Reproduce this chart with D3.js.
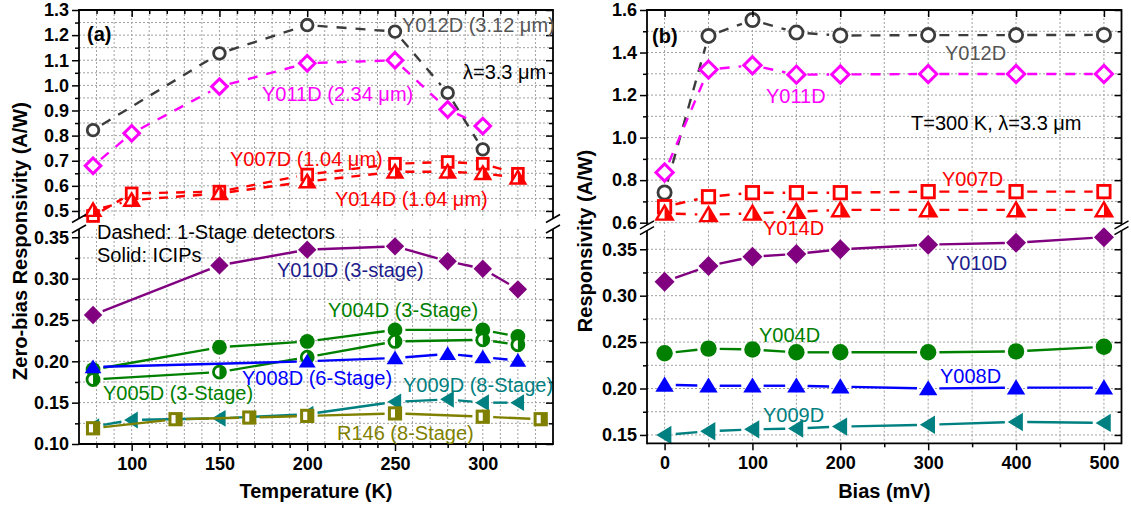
<!DOCTYPE html>
<html><head><meta charset="utf-8">
<script src="https://cdn.jsdelivr.net/npm/d3@7"></script>
<style>body{margin:0;background:#fff}svg{display:block}</style>
</head><body>
<svg id="c" width="1131" height="510"></svg>
<script>
// ---------- DATA ----------
// Panel (a): zero-bias responsivity vs temperature
const Y012D_T = [78, 150, 200, 250, 280, 300];
const Y012D_Ra = [0.822, 1.127, 1.240, 1.214, 0.970, 0.745];
const Y011D_T = [78, 100, 150, 200, 250, 280, 300];
const Y011D_Ra = [0.680, 0.809, 0.995, 1.088, 1.100, 0.904, 0.838];
const Y007D_T = [78, 100, 150, 200, 250, 280, 300, 320];
const Y007D_Ra = [0.480, 0.570, 0.577, 0.645, 0.688, 0.695, 0.688, 0.648];
const Y014D_T = [78, 100, 150, 200, 250, 280, 300, 320];
const Y014D_Ra = [0.503, 0.543, 0.570, 0.617, 0.656, 0.656, 0.650, 0.632];
const Y010D_T = [78, 150, 200, 250, 280, 300, 320];
const Y010D_Ra = [0.256, 0.316, 0.335, 0.339, 0.321, 0.312, 0.287];
const Y004D_T = [78, 150, 200, 250, 300, 320];
const Y004D_Ra = [0.190, 0.217, 0.224, 0.238, 0.238, 0.230];
const Y005D_T = [78, 150, 200, 250, 300, 320];
const Y005D_Ra = [0.178, 0.187, 0.205, 0.224, 0.226, 0.220];
const Y008D_T = [78, 200, 250, 280, 300, 320];
const Y008D_Ra = [0.193, 0.200, 0.204, 0.209, 0.205, 0.201];
const Y009D_T = [78, 100, 150, 200, 250, 280, 300, 320];
const Y009D_Ra = [0.121, 0.129, 0.131, 0.136, 0.151, 0.154, 0.150, 0.150];
const R146_T = [78, 125, 167, 200, 250, 300, 333];
const R146_Ra = [0.119, 0.130, 0.132, 0.134, 0.137, 0.133, 0.130];

// Panel (b): responsivity vs bias at 300 K
const bias = [0, 50, 100, 150, 200, 300, 400, 500];
const Y012D_Rb = [0.742, 1.478, 1.553, 1.494, 1.480, 1.482, 1.482, 1.483];
const Y011D_Rb = [0.836, 1.320, 1.340, 1.296, 1.297, 1.299, 1.299, 1.299];
const Y007D_Rb = [0.675, 0.722, 0.741, 0.741, 0.741, 0.746, 0.746, 0.746];
const Y014D_Rb = [0.644, 0.637, 0.644, 0.652, 0.660, 0.660, 0.660, 0.660];
const Y010D_Rb = [0.315, 0.332, 0.342, 0.345, 0.350, 0.355, 0.357, 0.363];
const Y004D_Rb = [0.238, 0.243, 0.242, 0.239, 0.239, 0.239, 0.240, 0.245];
const Y008D_Rb = [0.204, 0.203, 0.203, 0.203, 0.202, 0.200, 0.201, 0.201];
const Y009D_Rb = [0.150, 0.154, 0.156, 0.157, 0.159, 0.161, 0.164, 0.163];

// Ticks
const tempTicks = [100, 150, 200, 250, 300];
const biasTicks = [0, 100, 200, 300, 400, 500];
const aUpperTicks = [0.5, 0.6, 0.7, 0.8, 0.9, 1.0, 1.1, 1.2, 1.3];
const aLowerTicks = [0.10, 0.15, 0.20, 0.25, 0.30, 0.35];
const bUpperTicks = [0.6, 0.8, 1.0, 1.2, 1.4, 1.6];
const bLowerTicks = [0.15, 0.20, 0.25, 0.30, 0.35];

// ---------- DRAW ----------
const svg = d3.select('#c');
const FONT = '"Liberation Sans", Arial, Helvetica, sans-serif';
const C = {gray:'#3c3c3c', mag:'#ff00ff', red:'#ff0000', pur:'#800080', grn:'#008000',
           blu:'#0000ff', teal:'#008080', olive:'#808000', navy:'#1c1c8c'};

function marker(g, type, cx, cy, col, s) {
  const sw = 2.4;
  if (type === 'circleOpen') {
    g.append('circle').attr('cx',cx).attr('cy',cy).attr('r',s-1.6).attr('fill','#fff').attr('stroke',col).attr('stroke-width',sw+0.4);
  } else if (type === 'circleFilled') {
    g.append('circle').attr('cx',cx).attr('cy',cy).attr('r',s).attr('fill',col);
  } else if (type === 'circleHalf') {
    const r = s-1.4;
    g.append('circle').attr('cx',cx).attr('cy',cy).attr('r',r).attr('fill','#fff');
    g.append('path').attr('d',`M${cx},${cy-r}A${r},${r} 0 0 1 ${cx},${cy+r}Z`).attr('fill',col);
    g.append('circle').attr('cx',cx).attr('cy',cy).attr('r',r).attr('fill','none').attr('stroke',col).attr('stroke-width',sw+0.4);
  } else if (type === 'diamondOpen') {
    const d = s+0.4;
    g.append('path').attr('d',`M${cx},${cy-d}L${cx+d},${cy}L${cx},${cy+d}L${cx-d},${cy}Z`).attr('fill','#fff').attr('stroke',col).attr('stroke-width',sw+0.6);
  } else if (type === 'diamondFilled') {
    const d = s+1.8;
    g.append('path').attr('d',`M${cx},${cy-d}L${cx+d},${cy}L${cx},${cy+d}L${cx-d},${cy}Z`).attr('fill',col);
  } else if (type === 'squareOpen') {
    const h = s-2;
    g.append('rect').attr('x',cx-h).attr('y',cy-h).attr('width',2*h).attr('height',2*h).attr('fill','#fff').attr('stroke',col).attr('stroke-width',sw+0.4);
  } else if (type === 'squareHalf') {
    const h = s-1.8;
    g.append('rect').attr('x',cx-h).attr('y',cy-h).attr('width',2*h).attr('height',2*h).attr('fill','#fff');
    g.append('rect').attr('x',cx).attr('y',cy-h).attr('width',h).attr('height',2*h).attr('fill',col);
    g.append('rect').attr('x',cx-h).attr('y',cy-h).attr('width',2*h).attr('height',2*h).attr('fill','none').attr('stroke',col).attr('stroke-width',sw+0.6);
  } else if (type === 'triHalf') {
    const w = s, ht = s*1.7;
    const p = `M${cx},${cy-ht*0.55}L${cx+w},${cy+ht*0.45}L${cx-w},${cy+ht*0.45}Z`;
    g.append('path').attr('d',p).attr('fill','#fff');
    g.append('path').attr('d',`M${cx},${cy-ht*0.55}L${cx+w},${cy+ht*0.45}L${cx},${cy+ht*0.45}Z`).attr('fill',col);
    g.append('path').attr('d',p).attr('fill','none').attr('stroke',col).attr('stroke-width',sw).attr('stroke-linejoin','miter');
  } else if (type === 'triUp') {
    const w = s+1, ht = s*1.85;
    g.append('path').attr('d',`M${cx},${cy-ht*0.55}L${cx+w},${cy+ht*0.45}L${cx-w},${cy+ht*0.45}Z`).attr('fill',col);
  } else if (type === 'triLeft') {
    const w = s+1, ht = s*1.85;
    g.append('path').attr('d',`M${cx-ht*0.55},${cy}L${cx+ht*0.45},${cy-w}L${cx+ht*0.45},${cy+w}Z`).attr('fill',col);
  }
}

function drawPanel(P) {
  const g = svg.append('g');
  const x = P.x, yU = P.yU, yL = P.yL;
  const y = v => v > P.split ? yU(v) : yL(v);
  const [x0, x1] = x.range();
  const top = yU.range()[1], uBot = yU.range()[0], lTop = yL.range()[1], bot = yL.range()[0];

  // grid
  const gr = g.append('g').attr('stroke','#a0a0a0').attr('stroke-width',1).attr('stroke-dasharray','2,2');
  P.gridX.forEach(v => {
    gr.append('line').attr('x1',x(v)).attr('x2',x(v)).attr('y1',top).attr('y2',uBot);
    gr.append('line').attr('x1',x(v)).attr('x2',x(v)).attr('y1',lTop).attr('y2',bot);
  });
  P.gridU.forEach(v => gr.append('line').attr('x1',x0).attr('x2',x1).attr('y1',yU(v)).attr('y2',yU(v)));
  P.gridL.forEach(v => gr.append('line').attr('x1',x0).attr('x2',x1).attr('y1',yL(v)).attr('y2',yL(v)));

  // series
  P.series.forEach(S => {
    const pts = S.xs.map((xv,i) => [x(xv), y(S.ys[i])]);
    const lg = g.append('g').attr('stroke',S.color).attr('stroke-width',2.4).attr('fill','none');
    if (S.dash) lg.attr('stroke-dasharray', S.dash);
    const gap = S.size + 3;
    for (let i = 0; i < pts.length-1; i++) {
      const [ax, ay] = pts[i], [bx, by] = pts[i+1];
      const dx = bx-ax, dy = by-ay, L = Math.hypot(dx,dy);
      if (L <= 2*gap) continue;
      const ux = dx/L, uy = dy/L;
      lg.append('line').attr('x1',ax+ux*gap).attr('y1',ay+uy*gap).attr('x2',bx-ux*gap).attr('y2',by-uy*gap);
    }
    const mg = g.append('g');
    pts.forEach(p => marker(mg, S.marker, p[0], p[1], S.color, S.size));
  });

  // axes
  const styleAxis = a => {
    a.select('.domain').remove();
    a.selectAll('line').attr('stroke','#000').attr('stroke-width',1.5);
    a.selectAll('text').attr('font-family',FONT).attr('font-size',18).attr('font-weight','bold').attr('fill','#000');
  };
  const ax = g.append('g');
  ax.append('g').attr('transform',`translate(0,${bot})`)
    .call(d3.axisBottom(x).tickValues(P.xTicks).tickSize(7).tickPadding(6).tickFormat(d3.format('d'))).call(styleAxis);
  ax.append('g').attr('transform',`translate(0,${bot})`)
    .call(d3.axisBottom(x).tickValues(P.xMinor).tickSize(4).tickFormat('')).call(styleAxis);
  ax.append('g').attr('transform',`translate(0,${top})`)
    .call(d3.axisTop(x).tickValues(P.xTicks).tickSize(-7).tickFormat('')).call(styleAxis);
  ax.append('g').attr('transform',`translate(0,${top})`)
    .call(d3.axisTop(x).tickValues(P.xMinor).tickSize(-4).tickFormat('')).call(styleAxis);
  [[yU, P.yUTicks, P.yUMinor, P.fmtU], [yL, P.yLTicks, P.yLMinor, P.fmtL]].forEach(([sc, mj, mn, fm]) => {
    ax.append('g').attr('transform',`translate(${x0},0)`)
      .call(d3.axisLeft(sc).tickValues(mj).tickSize(7).tickPadding(3).tickFormat(d3.format(fm))).call(styleAxis);
    ax.append('g').attr('transform',`translate(${x0},0)`)
      .call(d3.axisLeft(sc).tickValues(mn).tickSize(4).tickFormat('')).call(styleAxis);
    ax.append('g').attr('transform',`translate(${x1},0)`)
      .call(d3.axisRight(sc).tickValues(mj).tickSize(-7).tickFormat('')).call(styleAxis);
    ax.append('g').attr('transform',`translate(${x1},0)`)
      .call(d3.axisRight(sc).tickValues(mn).tickSize(-4).tickFormat('')).call(styleAxis);
  });
  // frame
  const fr = g.append('g').attr('stroke','#000').attr('stroke-width',1.8).attr('fill','none');
  fr.append('line').attr('x1',x0).attr('x2',x1).attr('y1',top).attr('y2',top);
  fr.append('line').attr('x1',x0).attr('x2',x1).attr('y1',bot).attr('y2',bot);
  [x0, x1].forEach(xx => {
    fr.append('line').attr('x1',xx).attr('x2',xx).attr('y1',top-0.9).attr('y2',uBot);
    fr.append('line').attr('x1',xx).attr('x2',xx).attr('y1',lTop).attr('y2',bot+0.9);
    [uBot, lTop].forEach(yy => fr.append('line').attr('x1',xx-7).attr('y1',yy+4).attr('x2',xx+7).attr('y2',yy-4).attr('stroke-width',1.5));
  });

  // titles
  g.append('text').attr('x',(x0+x1)/2).attr('y',498).attr('text-anchor','middle')
    .attr('font-family',FONT).attr('font-size',20).attr('font-weight','bold').text(P.xTitle);
  g.append('text').attr('transform',`translate(${P.yTitleX},241) rotate(-90)`).attr('text-anchor','middle')
    .attr('font-family',FONT).attr('font-size',20).attr('font-weight','bold').text(P.yTitle);

  // labels
  P.labels.forEach(L => {
    g.append('text').attr('x',L[0]).attr('y',L[1]).attr('fill',L[3]).attr('font-family',FONT)
      .attr('font-size',20).attr('font-weight',L[4] ? 'bold' : 'normal').text(L[2]);
  });
}

const rng = (a,b,s) => d3.range(Math.round((b-a)/s)+1).map(i => +(a+i*s).toFixed(4));

const sa = 7.4, sb = 8.2;
drawPanel({
  x: d3.scaleLinear([70, 340], [79, 553]),
  yU: d3.scaleLinear([0.47, 1.3], [218.5, 10]),
  yL: d3.scaleLinear([0.10, 0.36], [444, 229]),
  split: 0.42,
  gridX: rng(80, 330, 10),
  gridU: rng(0.5, 1.25, 0.05),
  gridL: rng(0.125, 0.35, 0.025),
  xTicks: tempTicks, xMinor: rng(80, 330, 10).filter(v => v % 50 !== 0),
  yUTicks: aUpperTicks, yUMinor: rng(0.55, 1.25, 0.1), fmtU: '.1f',
  yLTicks: aLowerTicks, yLMinor: rng(0.125, 0.325, 0.05), fmtL: '.2f',
  xTitle: 'Temperature (K)', yTitle: 'Zero-bias Responsivity (A/W)', yTitleX: 27,
  series: [
    {xs: Y012D_T, ys: Y012D_Ra, color: C.gray, dash: '10,9', marker: 'circleOpen', size: sa},
    {xs: Y011D_T, ys: Y011D_Ra, color: C.mag, dash: '10,9', marker: 'diamondOpen', size: sa},
    {xs: Y007D_T, ys: Y007D_Ra, color: C.red, dash: '9,8', marker: 'squareOpen', size: sa},
    {xs: Y014D_T, ys: Y014D_Ra, color: C.red, dash: '9,8', marker: 'triHalf', size: sa},
    {xs: Y010D_T, ys: Y010D_Ra, color: C.pur, dash: null, marker: 'diamondFilled', size: sa},
    {xs: Y004D_T, ys: Y004D_Ra, color: C.grn, dash: null, marker: 'circleFilled', size: sa},
    {xs: Y005D_T, ys: Y005D_Ra, color: C.grn, dash: null, marker: 'circleHalf', size: sa},
    {xs: Y008D_T, ys: Y008D_Ra, color: C.blu, dash: null, marker: 'triUp', size: sa},
    {xs: Y009D_T, ys: Y009D_Ra, color: C.teal, dash: null, marker: 'triLeft', size: sa},
    {xs: R146_T, ys: R146_Ra, color: C.olive, dash: null, marker: 'squareHalf', size: sa}
  ],
  labels: [
    [87, 41, '(a)', '#000', true],
    [402, 32, 'Y012D (3.12 μm)', '#555'],
    [463, 79, 'λ=3.3 μm', '#000'],
    [262, 101, 'Y011D (2.34 μm)', C.mag],
    [230, 166, 'Y007D (1.04 μm)', C.red],
    [335, 206, 'Y014D (1.04 μm)', C.red],
    [97, 238.5, 'Dashed: 1-Stage detectors', '#000'],
    [97, 262, 'Solid: ICIPs', '#000'],
    [277, 276.5, 'Y010D (3-stage)', C.navy],
    [328, 316.5, 'Y004D (3-Stage)', C.grn],
    [242, 385, 'Y008D (6-Stage)', C.blu],
    [103, 400, 'Y005D (3-Stage)', C.grn],
    [403, 392, 'Y009D (8-Stage)', C.teal],
    [337, 440, 'R146 (8-Stage)', C.olive]
  ]
});

drawPanel({
  x: d3.scaleLinear([-20, 520], [647, 1121.5]),
  yU: d3.scaleLinear([0.59, 1.6], [224.8, 10]),
  yL: d3.scaleLinear([0.141, 0.37], [443.3, 230.7]),
  split: 0.45,
  gridX: rng(0, 500, 50),
  gridU: rng(0.6, 1.5, 0.1),
  gridL: rng(0.15, 0.35, 0.025),
  xTicks: biasTicks, xMinor: rng(50, 450, 100),
  yUTicks: bUpperTicks, yUMinor: rng(0.7, 1.5, 0.2), fmtU: '.1f',
  yLTicks: bLowerTicks, yLMinor: rng(0.175, 0.325, 0.05), fmtL: '.2f',
  xTitle: 'Bias (mV)', yTitle: 'Responsivity (A/W)', yTitleX: 592,
  series: [
    {xs: bias, ys: Y012D_Rb, color: C.gray, dash: '10,9', marker: 'circleOpen', size: sb},
    {xs: bias, ys: Y011D_Rb, color: C.mag, dash: '10,9', marker: 'diamondOpen', size: sb},
    {xs: bias, ys: Y007D_Rb, color: C.red, dash: '10,9', marker: 'squareOpen', size: sb},
    {xs: bias, ys: Y014D_Rb, color: C.red, dash: '10,9', marker: 'triHalf', size: sb},
    {xs: bias, ys: Y010D_Rb, color: C.pur, dash: null, marker: 'diamondFilled', size: sb},
    {xs: bias, ys: Y004D_Rb, color: C.grn, dash: null, marker: 'circleFilled', size: sb},
    {xs: bias, ys: Y008D_Rb, color: C.blu, dash: null, marker: 'triUp', size: sb},
    {xs: bias, ys: Y009D_Rb, color: C.teal, dash: null, marker: 'triLeft', size: sb}
  ],
  labels: [
    [652, 43, '(b)', '#000', true],
    [945, 60, 'Y012D', '#555'],
    [766, 103, 'Y011D', C.mag],
    [911, 130, 'T=300 K, λ=3.3 μm', '#000'],
    [942, 186, 'Y007D', C.red],
    [763, 235, 'Y014D', C.red],
    [946, 270, 'Y010D', C.navy],
    [759, 341.5, 'Y004D', C.grn],
    [940, 383, 'Y008D', C.blu],
    [763, 421.5, 'Y009D', C.teal]
  ]
});
</script>
</body></html>
